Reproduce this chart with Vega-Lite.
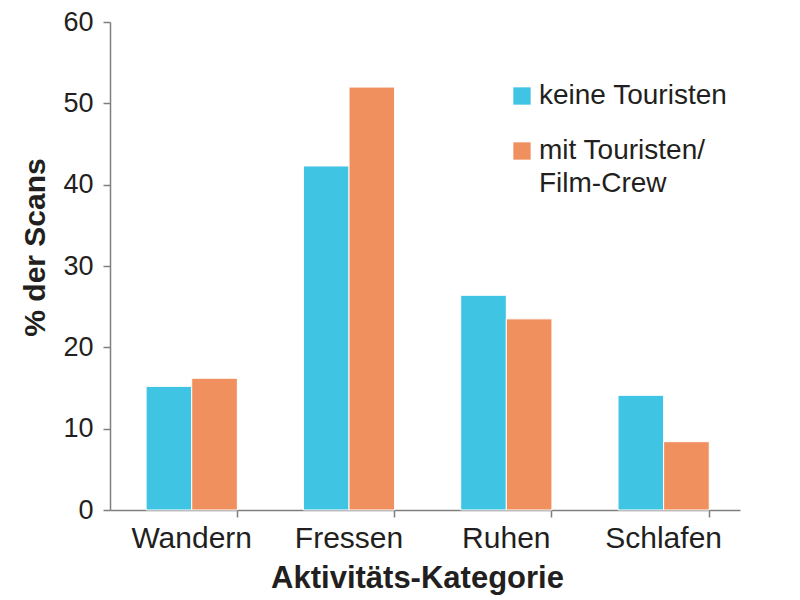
{
  "$schema": "https://vega.github.io/schema/vega-lite/v6.json",
  "width": 630,
  "height": 488,
  "autosize": {"type": "none"},
  "padding": {"left": 110, "top": 22, "right": 60, "bottom": 90},
  "background": "white",
  "config": {
    "view": {"stroke": null},
    "font": "Liberation Sans",
    "style": {"guide-label": {"lineHeight": 33}},
    "axis": {"grid": false, "domainColor": "#7f7f7f", "domainWidth": 1.5, "tickColor": "#7f7f7f", "tickWidth": 1.5, "labelColor": "#231f20", "titleColor": "#231f20", "labelFont": "Liberation Sans", "titleFont": "Liberation Sans"}
  },
  "data": {
    "values": [
      {"kategorie": "Wandern", "gruppe": "keine Touristen", "wert": 15.2},
      {"kategorie": "Wandern", "gruppe": "mit Touristen/ Film-Crew", "wert": 16.2},
      {"kategorie": "Fressen", "gruppe": "keine Touristen", "wert": 42.3},
      {"kategorie": "Fressen", "gruppe": "mit Touristen/ Film-Crew", "wert": 52.0},
      {"kategorie": "Ruhen", "gruppe": "keine Touristen", "wert": 26.4},
      {"kategorie": "Ruhen", "gruppe": "mit Touristen/ Film-Crew", "wert": 23.5},
      {"kategorie": "Schlafen", "gruppe": "keine Touristen", "wert": 14.1},
      {"kategorie": "Schlafen", "gruppe": "mit Touristen/ Film-Crew", "wert": 8.4}
    ]
  },
  "mark": {"type": "bar", "stroke": "white", "strokeWidth": 1},
  "encoding": {
    "x": {
      "field": "kategorie",
      "type": "nominal",
      "sort": ["Wandern", "Fressen", "Ruhen", "Schlafen"],
      "scale": {"paddingInner": 0.42, "paddingOuter": 0.2125, "align": 0.54},
      "axis": {"title": "Aktivitäts-Kategorie", "labelAngle": 0, "labelFontSize": 30, "labelPadding": 6, "titleFontSize": 31, "titleFontWeight": "bold", "titlePadding": 10, "titleX": 307, "titleAlign": "center", "tickSize": 7, "bandPosition": 1}
    },
    "xOffset": {"field": "gruppe", "type": "nominal", "scale": {"paddingInner": 0, "paddingOuter": 0}},
    "y": {
      "field": "wert",
      "type": "quantitative",
      "scale": {"domain": [0, 60]},
      "axis": {"title": "% der Scans", "values": [0, 10, 20, 30, 40, 50, 60], "labelFontSize": 27, "labelPadding": 10, "tickSize": 7, "titleFontSize": 30, "titleFontWeight": "bold", "titlePadding": 12, "titleY": 225, "titleAlign": "center"}
    },
    "color": {
      "field": "gruppe",
      "type": "nominal",
      "scale": {"domain": ["keine Touristen", "mit Touristen/ Film-Crew"], "range": ["#40c4e4", "#f0905e"]},
      "legend": {
        "title": null,
        "orient": "none",
        "legendX": 398,
        "legendY": 60,
        "symbolType": "square",
        "symbolSize": 300,
        "symbolStrokeWidth": 0,
        "labelFontSize": 28,
        "labelColor": "#231f20",
        "labelFont": "Liberation Sans",
        "labelOffset": 3,
        "rowPadding": 27,
        "labelLimit": 300,
        "labelExpr": "datum.label == 'mit Touristen/ Film-Crew' ? ['mit Touristen/', 'Film-Crew'] : datum.label"
      }
    }
  }
}
